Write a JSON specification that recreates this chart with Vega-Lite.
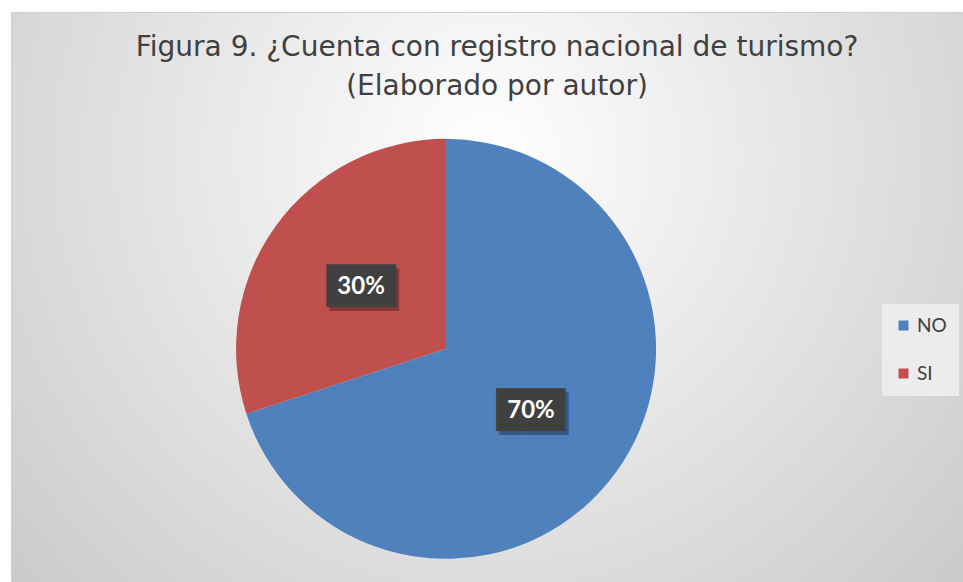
{
  "$schema": "https://vega.github.io/schema/vega-lite/v6.json",
  "width": 952,
  "height": 570,
  "autosize": {"type": "none"},
  "padding": {"left": 11, "top": 12, "right": 0, "bottom": 0},
  "background": "#ffffff",
  "title": {
    "text": ["Figura 9. ¿Cuenta con registro nacional de turismo?", "(Elaborado por autor)"],
    "anchor": "middle",
    "frame": "group",
    "offset": -89,
    "dx": 10,
    "font": "DejaVu Sans",
    "fontSize": 28,
    "fontWeight": "normal",
    "color": "#404040",
    "lineHeight": 39
  },
  "data": {
    "values": [
      {"respuesta": "NO", "valor": 70, "etiqueta": "70%"},
      {"respuesta": "SI", "valor": 30, "etiqueta": "30%"}
    ]
  },
  "encoding": {
    "theta": {"field": "valor", "type": "quantitative", "stack": true},
    "order": {"field": "respuesta", "type": "ordinal", "sort": "ascending"},
    "x": {"datum": 0.457, "type": "quantitative", "scale": {"domain": [0, 1]}, "axis": null},
    "y": {"datum": 0.409, "type": "quantitative", "scale": {"domain": [0, 1]}, "axis": null}
  },
  "layer": [
    {
      "mark": {"type": "arc", "outerRadius": 210},
      "encoding": {
        "color": {
          "field": "respuesta",
          "type": "nominal",
          "scale": {"domain": ["NO", "SI"], "range": ["#4F81BD", "#C0504D"]},
          "legend": {
            "orient": "none",
            "legendX": 871,
            "legendY": 292,
            "title": null,
            "symbolType": "square",
            "symbolSize": 100,
            "symbolStrokeWidth": 0,
            "labelFontSize": 19,
            "labelFont": "Lato",
            "labelColor": "#404040",
            "labelOffset": 4,
            "padding": 12,
            "rowPadding": 28,
            "fillColor": "#ececec"
          }
        }
      }
    },
    {
      "mark": {"type": "text", "radius": 105, "text": "██▌", "font": "DejaVu Sans", "fontSize": 36, "color": "#000000", "opacity": 0.3, "dx": 10, "dy": 4, "baseline": "middle", "align": "center"},
      "encoding": {"detail": {"field": "respuesta"}}
    },
    {
      "mark": {"type": "text", "radius": 105, "text": "██▌", "font": "DejaVu Sans", "fontSize": 36, "color": "#404040", "dx": 7, "baseline": "middle", "align": "center"},
      "encoding": {"detail": {"field": "respuesta"}}
    },
    {
      "mark": {"type": "text", "radius": 105, "font": "Lato", "fontSize": 24, "fontWeight": "bold", "color": "#ffffff", "baseline": "middle", "align": "center"},
      "encoding": {"detail": {"field": "respuesta"}, "text": {"field": "etiqueta"}}
    }
  ],
  "config": {
    "view": {
      "fill": {
        "gradient": "radial",
        "x1": 0.5, "y1": 0.35, "r1": 0,
        "x2": 0.5, "y2": 0.35, "r2": 0.75,
        "stops": [
          {"offset": 0, "color": "#ffffff"},
          {"offset": 1, "color": "#c4c4c4"}
        ]
      },
      "stroke": "#d0d0d0"
    }
  }
}
